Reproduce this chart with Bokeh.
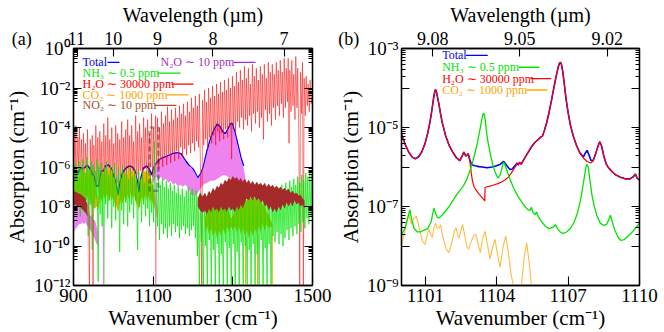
import numpy as np
from bokeh.plotting import figure
from bokeh.layouts import row
from bokeh.models import (Range1d, LinearAxis, LogAxis, FixedTicker,
                          CustomJSTickFormatter, Label, BoxAnnotation)
from bokeh.embed import file_html
from bokeh.resources import INLINE

# ---------------------------------------------------------------------------
# Panel (a): 900-1500 cm^-1 overview.  All absorption values are log10(cm^-1).
# ---------------------------------------------------------------------------
h2o_a_wn = [900, 902, 904, 906, 908, 911, 913, 915, 918, 920, 923, 925, 928, 930, 933, 935, 938, 940, 942, 945, 947, 949, 951, 954, 956, 959,
            961, 964, 966, 969, 971, 974, 976, 979, 981, 984, 986, 989, 991, 994, 996, 999, 1001, 1004, 1006, 1009, 1011, 1014, 1016, 1019, 1021, 1024, 1026, 1029,
            1031, 1034, 1036, 1039, 1041, 1044, 1046, 1049, 1051, 1054, 1056, 1059, 1061, 1064, 1066, 1069, 1071, 1074, 1076, 1079, 1081, 1084, 1086, 1089, 1091, 1094, 1096, 1099,
            1101, 1104, 1106, 1109, 1111, 1114, 1116, 1119, 1121, 1124, 1126, 1129, 1131, 1134, 1136, 1139, 1141, 1144, 1146, 1149, 1151, 1154, 1156, 1159, 1161, 1164, 1166, 1169, 1171, 1174, 1176, 1179, 1181, 1184, 1186, 1189, 1191, 1194, 1196, 1199,
            1201, 1204, 1206, 1209, 1211, 1214, 1216, 1219, 1222, 1224, 1227, 1229, 1232, 1234, 1237, 1239, 1242, 1244, 1247, 1249, 1252, 1254, 1257, 1259, 1262, 1264, 1267, 1269, 1272, 1274, 1277, 1279, 1282, 1284, 1287, 1289, 1292, 1294, 1297, 1299,
            1302, 1304, 1307, 1309, 1312, 1314, 1317, 1319, 1322, 1324, 1327, 1329, 1332, 1334, 1337, 1339, 1342, 1344, 1347, 1349, 1352, 1354, 1357, 1359, 1362, 1364, 1367, 1369, 1372, 1374, 1377, 1379, 1382, 1384, 1387, 1389, 1392, 1394, 1397, 1399,
            1402, 1404, 1407, 1409, 1412, 1414, 1417, 1419, 1422, 1424, 1427, 1429, 1432, 1434, 1437, 1439, 1441, 1443, 1446, 1448, 1451, 1453, 1456, 1458, 1461, 1463, 1466, 1468, 1470, 1473, 1475, 1477, 1479, 1482, 1484, 1487, 1489, 1492, 1494, 1497, 1500]
h2o_a_lg = [-5.6, -4.2, -6.8, -3.9, -7.0, -4.5, -6.2, -4.0, -7.2, -4.6, -6.9, -4.3, -7.4, -4.8, -6.5, -4.1, -8.0, -12.5, -4.6, -7.2, -4.4, -12.5, -4.9, -7.0, -3.9, -6.8,
            -4.5, -7.3, -4.2, -6.6, -4.7, -7.1, -3.8, -6.9, -4.4, -7.4, -3.5, -6.7, -4.6, -7.0, -4.0, -6.5, -4.8, -7.2, -3.9, -6.8, -4.3, -7.0, -4.6, -6.4, -3.7, -7.1, -4.5, -6.6,
            -4.1, -6.9, -3.6, -6.5, -4.4, -7.0, -3.9, -6.3, -4.7, -6.8, -3.4, -6.4, -4.2, -6.9, -3.8, -6.2, -4.5, -6.7, -3.5, -6.1, -4.0, -6.6, -3.6, -6.3, -4.3, -6.0, -3.3, -6.5,
            -4.0, -6.3, -3.4, -5.9, -3.5, -6.1, -4.0, -5.6, -3.2, -6.0, -3.8, -5.5, -3.4, -5.9, -2.95, -5.4, -3.7, -5.8, -3.1, -5.3, -3.6, -5.7, -3.0, -5.2, -3.5, -5.6, -2.9, -5.0, -3.3, -5.5, -2.8, -5.1, -3.4, -5.4, -2.7, -4.9, -3.2, -5.3, -2.5, -4.8,
            -3.0, -5.2, -2.4, -4.7, -2.9, -5.0, -2.3, -6.5, -12.5, -2.6, -4.9, -2.1, -4.6, -2.7, -5.1, -2.0, -4.5, -2.5, -4.8, -1.9, -4.4, -2.4, -4.9, -1.8, -4.2, -2.3, -4.7, -1.7, -4.3, -2.2, -4.6, -1.6, -4.1, -2.1, -4.5, -1.5, -4.0, -2.0, -5.6, -1.4,
            -3.9, -1.9, -4.2, -1.2, -3.7, -1.7, -4.0, -1.1, -3.5, -1.6, -4.1, -0.9, -3.6, -1.5, -3.9, -1.0, -3.4, -1.8, -4.2, -0.8, -3.3, -1.4, -3.8, -1.0, -3.2, -1.6, -4.0, -0.9, -3.5, -1.3, -4.6, -0.8, -3.1, -1.5, -3.7, -0.7, -3.3, -1.2, -3.9, -0.8,
            -3.0, -1.3, -3.6, -0.7, -2.9, -1.1, -3.4, -0.6, -2.8, -1.2, -3.5, -0.5, -3.0, -1.0, -2.7, -0.5, -4.8, -1.1, -3.2, -0.6, -2.9, -1.3, -3.6, -0.4, -3.0, -1.0, -5.0, -12.5, -1.2, -3.3, -0.7, -12.5, -1.5, -3.4, -1.4, -2.9, -1.8, -3.2, -1.6, -2.8, -2.2]

nh3_a_wn = [900, 902, 904, 907, 909, 912, 914, 917, 919, 922, 924, 927, 929, 932, 934, 937, 939, 942, 944, 947, 949, 952, 954, 957, 959,
            962, 964, 967, 969, 972, 974, 976, 978, 981, 983, 986, 988, 991, 993, 996, 998, 1001, 1003, 1006, 1008, 1011, 1013, 1016, 1018, 1021, 1023, 1026, 1028,
            1031, 1033, 1036, 1038, 1041, 1043, 1046, 1048, 1051, 1053, 1056, 1058, 1061, 1063, 1066, 1068, 1071, 1073, 1076, 1078, 1081, 1083, 1086, 1088, 1091, 1093, 1096, 1098,
            1101, 1103, 1106, 1108, 1111, 1113, 1116, 1118, 1121, 1123, 1126, 1128, 1131, 1133, 1136, 1138, 1141, 1143, 1146, 1148, 1151, 1153, 1156, 1158, 1161, 1163, 1166, 1168, 1171, 1173, 1176, 1178, 1181, 1183, 1186, 1188, 1191, 1193, 1196, 1198,
            1201, 1203, 1206, 1208, 1211, 1213, 1216, 1218, 1221, 1223, 1226, 1228, 1231, 1233, 1236, 1238, 1241, 1243, 1246, 1248, 1251, 1253, 1256, 1258, 1261, 1263, 1266, 1268, 1271, 1273, 1276, 1278, 1281, 1283, 1286, 1288, 1291, 1293, 1296, 1298,
            1301, 1303, 1306, 1308, 1311, 1313, 1316, 1318, 1321, 1323, 1326, 1328, 1331, 1333, 1336, 1338, 1341, 1343, 1346, 1348, 1351, 1353, 1356, 1358, 1361, 1363, 1366, 1368, 1371, 1373, 1376, 1378, 1381, 1383, 1386, 1388, 1391, 1393, 1396, 1398,
            1401, 1403, 1406, 1408, 1411, 1413, 1416, 1418, 1421, 1423, 1426, 1428, 1431, 1433, 1436, 1438, 1441, 1443, 1446, 1448, 1451, 1453, 1456, 1458, 1461, 1463, 1466, 1468, 1471, 1473, 1476, 1478, 1481, 1483, 1486, 1488, 1491, 1493, 1496, 1498, 1500]
nh3_a_lg = [-6.0, -7.8, -5.8, -8.2, -6.2, -7.6, -5.7, -8.5, -6.0, -7.9, -5.6, -8.3, -6.3, -7.7, -5.5, -9.5, -6.1, -7.9, -5.7, -10.2, -5.9, -8.1, -6.2, -7.6, -5.6,
            -11.8, -6.0, -8.4, -5.8, -9.0, -6.3, -12.5, -6.0, -7.9, -5.7, -8.6, -6.4, -7.7, -5.9, -9.1, -6.2, -8.0, -5.8, -8.7, -6.5, -7.5, -6.0, -10.3, -6.3, -8.2, -5.9, -8.9, -6.4,
            -7.8, -6.1, -9.0, -6.6, -8.3, -6.0, -7.9, -6.5, -8.6, -6.2, -7.7, -6.7, -10.2, -6.1, -8.0, -6.6, -8.8, -6.3, -7.9, -6.8, -8.5, -6.2, -8.1, -6.7, -9.0, -6.4, -8.3, -6.9,
            -8.8, -4.7, -9.4, -6.8, -9.0, -6.5, -9.7, -6.9, -8.9, -6.6, -9.4, -7.0, -9.1, -6.7, -9.6, -7.1, -9.0, -6.8, -9.5, -7.2, -8.9, -6.9, -9.3, -7.3, -9.0, -7.0, -9.6, -7.4, -9.2, -7.1, -9.0, -7.5, -9.4, -7.2, -9.1, -7.0, -9.5, -7.3, -9.2, -7.1,
            -9.0, -7.4, -9.6, -7.2, -10.5, -7.5, -12.5, -7.3, -9.8, -7.6, -12.5, -7.4, -10.0, -7.7, -12.5, -7.3, -9.7, -7.5, -12.5, -7.2, -10.2, -7.6, -12.5, -7.4, -9.9, -7.7, -12.5, -7.3, -10.4, -7.5, -12.5, -7.6, -9.8, -7.2, -12.5, -7.5, -10.1, -7.4, -12.5, -7.6,
            -9.9, -7.3, -12.5, -7.5, -10.3, -7.2, -12.5, -7.6, -9.8, -7.3, -12.5, -7.4, -10.0, -7.7, -12.5, -7.2, -10.2, -7.5, -12.5, -7.3, -9.9, -7.6, -12.5, -7.4, -10.4, -7.2, -12.5, -7.5, -9.7, -7.3, -12.5, -7.6, -10.1, -7.4, -12.5, -7.2, -9.9, -7.5, -12.5, -7.3,
            -9.5, -7.1, -9.8, -7.4, -9.3, -7.0, -9.9, -7.3, -9.4, -6.9, -10.0, -7.2, -9.6, -6.8, -9.2, -7.1, -9.7, -6.7, -9.1, -7.0, -9.5, -6.6, -9.0, -6.9, -9.4, -6.5, -8.9, -6.8, -9.3, -6.4, -8.8, -6.7, -9.1, -6.3, -8.6, -6.5, -8.9, -6.2, -8.5, -6.4, -8.2]

# CO2: dense line bands, given as upper / lower envelopes
co2_a_wn = [898, 902, 906, 910, 914, 918, 922, 926, 930, 934, 938, 942, 946, 950, 954, 958, 961,
            964, 968, 972, 976, 980, 984, 988, 992, 996, 1000, 1004, 1008, 1012, 1016, 1020, 1024, 1028, 1032, 1036,
            1040, 1044, 1048, 1052, 1056, 1060, 1064, 1068, 1072, 1076, 1080, 1084, 1088, 1092, 1096, 1100, 1104, 1108, 1112, 1115,
            1226, 1230, 1235, 1240, 1245, 1250, 1255, 1260, 1265, 1270, 1275, 1280, 1285, 1290, 1295, 1300, 1305, 1310,
            1315, 1320, 1325, 1330, 1335, 1340, 1345, 1350, 1355, 1360, 1365, 1370, 1375, 1380, 1385, 1390, 1395, 1400, 1404]
co2_a_top = [-7.0, -6.6, -6.9, -6.3, -6.6, -6.1, -6.4, -6.0, -6.3, -5.95, -6.3, -6.1, -6.5, -6.4, -6.9, -7.2, -7.8,
             -7.0, -6.5, -6.2, -6.4, -6.0, -6.3, -5.95, -6.3, -6.1, -6.5, -6.6, -7.1, -7.6, -7.0, -6.6, -6.3, -6.5, -6.1, -6.4,
             -6.0, -6.3, -6.05, -6.4, -6.3, -6.8, -7.5, -6.9, -6.4, -6.1, -6.3, -6.0, -6.35, -6.2, -6.7, -6.9, -7.4, -7.7, -8.2, -14,
             -14, -8.6, -8.2, -7.9, -8.0, -7.7, -7.9, -7.6, -7.8, -7.7, -8.0, -7.9, -8.3, -8.2, -8.6, -8.5, -8.3, -8.0,
             -8.1, -7.8, -7.9, -7.6, -7.7, -7.45, -7.6, -7.45, -7.6, -7.5, -7.7, -7.7, -7.9, -8.0, -8.3, -8.4, -8.7, -8.9, -14]
co2_a_bot = [-7.6, -7.3, -7.7, -7.4, -7.8, -7.4, -7.9, -7.5, -7.8, -7.4, -7.9, -7.5, -8.0, -7.6, -8.1, -8.0, -8.2,
             -7.9, -7.5, -7.8, -7.4, -7.7, -7.3, -7.8, -7.4, -7.7, -7.5, -7.9, -8.0, -8.3, -7.9, -7.6, -7.9, -7.5, -7.8, -7.4,
             -7.7, -7.3, -7.6, -7.4, -7.8, -7.9, -8.2, -7.8, -7.5, -7.8, -7.4, -7.7, -7.4, -7.8, -7.6, -7.9, -8.1, -8.4, -8.7, -14,
             -14, -9.3, -9.0, -9.4, -9.1, -9.5, -9.2, -9.6, -9.2, -9.5, -9.1, -9.4, -9.0, -9.3, -9.0, -9.2, -9.0, -9.3,
             -9.0, -9.4, -9.1, -9.5, -9.2, -9.6, -9.2, -9.5, -9.1, -9.4, -9.0, -9.3, -8.9, -9.2, -8.9, -9.1, -9.0, -9.2, -14]
co2_dip_wn = [1106, 1332, 1362, 1399]
co2_dip_lg = [-8.1, -9.5, -9.4, -9.2]

# NO2 bands
no2_a_wn = [897, 905, 910, 915, 920, 925, 930, 935, 938,
            1208, 1212, 1218, 1224,
            1230, 1235, 1240, 1245, 1250, 1255, 1260, 1265, 1270, 1275,
            1280, 1285, 1290, 1295, 1300, 1305, 1310, 1315, 1320, 1325,
            1330, 1335, 1340, 1345, 1350, 1355, 1360, 1365, 1370, 1375,
            1380, 1385, 1390, 1395, 1400, 1405, 1410, 1415, 1420, 1425,
            1430, 1435, 1440, 1445, 1450, 1455, 1460, 1465, 1470, 1475,
            1480, 1484]
no2_a_top = [-7.2, -7.25, -7.3, -7.35, -7.4, -7.5, -7.6, -7.9, -14,
             -14, -7.6, -7.3, -7.5,
             -7.3, -7.5, -7.2, -7.35, -7.05, -7.2, -6.95, -7.05, -6.8, -6.9,
             -6.65, -6.75, -6.55, -6.65, -6.45, -6.6, -6.5, -6.7, -6.55, -6.75,
             -6.6, -6.8, -6.65, -6.85, -6.7, -6.9, -6.75, -6.9, -6.8, -6.95,
             -6.8, -7.0, -6.85, -7.0, -6.9, -7.05, -6.95, -7.1, -7.0, -7.15,
             -7.05, -7.2, -7.1, -7.3, -7.2, -7.35, -7.3, -7.45, -7.4, -7.6,
             -7.7, -14]
no2_a_bot = [-8.0, -7.9, -8.0, -7.95, -8.1, -8.2, -8.3, -8.5, -14,
             -14, -8.0, -8.2, -8.3,
             -8.2, -8.4, -8.1, -8.3, -8.0, -8.2, -8.1, -8.3, -8.0, -8.2,
             -8.1, -8.3, -8.0, -8.2, -8.1, -8.3, -8.0, -8.2, -7.9, -8.1,
             -7.8, -7.6, -7.7, -7.5, -7.7, -7.5, -7.7, -7.6, -7.8, -7.7,
             -8.0, -7.9, -8.2, -8.0, -8.3, -8.1, -8.3, -8.0, -8.2, -7.9,
             -8.1, -7.8, -8.0, -7.8, -8.0, -7.7, -7.9, -7.8, -8.0, -7.9,
             -8.1, -14]

# N2O bands
n2o_a_wn = [898, 902, 906, 910, 914, 918, 922, 926, 930, 934, 938, 942, 946, 950, 954, 958, 962, 965,
            1093, 1097, 1102, 1108, 1114, 1120, 1126, 1132, 1138, 1144,
            1150, 1156, 1162, 1168, 1174, 1180, 1186, 1195, 1205, 1212,
            1219, 1226, 1235, 1245, 1253, 1261, 1268, 1275, 1281, 1288,
            1294, 1298, 1305, 1312, 1320, 1327, 1332, 1336, 1340]
n2o_a_top = [-7.3, -7.5, -7.4, -7.7, -7.6, -7.9, -7.8, -8.1, -8.0, -8.3, -8.2, -8.5, -8.4, -8.7, -8.7, -9.0, -9.4, -14,
             -14, -6.6, -6.0, -5.8, -5.7, -5.6, -5.55, -5.5, -5.45, -5.4,
             -5.35, -5.35, -5.3, -5.35, -5.5, -5.7, -5.9, -6.0, -6.3, -6.6,
             -6.4, -6.05, -5.3, -4.6, -4.2, -3.9, -4.05, -4.3, -4.4, -4.15,
             -3.9, -3.85, -4.3, -4.9, -5.6, -6.05, -6.6, -7.2, -14]
n2o_a_bot = [-9.5, -9.3, -9.1, -9.0, -8.9, -8.9, -8.8, -8.9, -8.8, -9.0, -9.0, -9.2, -9.3, -9.5, -9.7, -9.9, -10.0, -14,
             -14, -6.9, -6.7, -6.5, -6.6, -6.5, -6.7, -6.6, -6.8, -6.7,
             -6.9, -6.8, -7.0, -6.9, -7.0, -6.9, -7.0, -7.4, -7.45, -7.3,
             -7.1, -6.9, -6.8, -6.7, -6.7, -6.6, -6.5, -6.4, -6.4, -6.5,
             -6.6, -6.6, -6.7, -6.8, -6.9, -7.0, -7.1, -7.3, -14]
n2o_dip_wn = [975, 1107]
n2o_dip_lg = [-8.9, -6.6]

# Total absorption along the upper edge of the weaker bands
total_a_wn = [900, 906, 912, 918, 924, 930, 934, 940, 946, 952,
              958, 964, 970, 976, 980, 988, 994, 1000, 1006, 1012,
              1018, 1024, 1032, 1040, 1048, 1054, 1060, 1064, 1070, 1076,
              1084, 1090, 1096, 1102,
              1110, 1120, 1130, 1140, 1150, 1160, 1170, 1180, 1190, 1200, 1212, 1220, 1226,
              1235, 1245, 1253, 1261, 1268, 1275, 1281, 1288, 1294, 1298, 1305, 1312, 1320, 1327]
total_a_lg = [-6.75, -6.6, -6.3, -6.05, -6.1, -6.0, -5.9, -6.05, -6.3, -6.5,
              -7.0, -6.9, -6.2, -6.2, -5.95, -5.9, -6.05, -6.4, -6.8, -7.4,
              -6.7, -6.25, -6.05, -5.95, -6.0, -6.2, -6.7, -7.3, -6.5, -6.05,
              -5.95, -6.1, -6.4, -6.0,
              -5.75, -5.57, -5.49, -5.42, -5.32, -5.28, -5.33, -5.65, -5.92, -6.1, -6.55, -6.33, -6.0,
              -5.2, -4.5, -4.1, -3.82, -3.97, -4.22, -4.32, -4.07, -3.82, -3.78, -4.22, -4.82, -5.5, -5.95]

# ---------------------------------------------------------------------------
# Panel (b): 1100-1110 cm^-1 detail (log10 cm^-1)
# ---------------------------------------------------------------------------
h2o_b_wn = [1100.00, 1100.15, 1100.30, 1100.45, 1100.58, 1100.72, 1100.85, 1100.98, 1101.10, 1101.20,
            1101.28, 1101.35, 1101.40, 1101.43, 1101.46, 1101.51, 1101.57, 1101.64, 1101.71, 1101.85,
            1102.00, 1102.15, 1102.30, 1102.45, 1102.55, 1102.62, 1102.70, 1102.76, 1102.80, 1102.86,
            1102.92, 1102.98, 1103.05, 1103.15, 1103.25, 1103.35, 1103.45, 1103.50, 1103.51, 1103.60,
            1103.75, 1103.90, 1104.05, 1104.20, 1104.35, 1104.50, 1104.62, 1104.72, 1104.80, 1104.86,
            1104.91, 1104.96, 1105.03, 1105.15, 1105.30, 1105.45, 1105.60, 1105.75, 1105.85, 1105.92,
            1106.00, 1106.10, 1106.20, 1106.30, 1106.40, 1106.50, 1106.58, 1106.64, 1106.68, 1106.72,
            1106.78, 1106.85, 1106.92, 1107.00, 1107.10, 1107.22, 1107.35, 1107.50, 1107.65, 1107.80,
            1107.95, 1108.05, 1108.15, 1108.25, 1108.33, 1108.40, 1108.50, 1108.60, 1108.70, 1108.85,
            1109.00, 1109.20, 1109.40, 1109.60, 1109.75, 1109.83, 1109.90, 1110.00]
h2o_b_lg = [-5.17, -5.42, -5.62, -5.75, -5.79, -5.74, -5.62, -5.42, -5.15, -4.85,
            -4.55, -4.25, -4.08, -4.04, -4.08, -4.22, -4.40, -4.65, -4.87, -5.20,
            -5.45, -5.62, -5.76, -5.84, -5.72, -5.62, -5.72, -5.70, -5.66, -5.80,
            -6.10, -6.35, -6.50, -6.60, -6.68, -6.75, -6.82, -6.86, -6.52, -6.50,
            -6.48, -6.45, -6.42, -6.38, -6.33, -6.25, -6.15, -6.05, -5.98, -5.90,
            -5.95, -5.88, -5.93, -5.80, -5.65, -5.50, -5.38, -5.30, -5.24, -5.22,
            -5.08, -4.88, -4.62, -4.32, -4.00, -3.70, -3.48, -3.37, -3.35, -3.40,
            -3.60, -3.95, -4.30, -4.62, -4.95, -5.22, -5.45, -5.65, -5.78, -5.86,
            -5.90, -5.85, -5.68, -5.48, -5.36, -5.45, -5.72, -5.92, -6.02, -6.12,
            -6.20, -6.26, -6.30, -6.30, -6.24, -6.18, -6.28, -6.33]

total_b_wn = [1100.00, 1100.15, 1100.30, 1100.45, 1100.58, 1100.72, 1100.85, 1100.98, 1101.10, 1101.20,
              1101.28, 1101.35, 1101.40, 1101.43, 1101.46, 1101.51, 1101.57, 1101.64, 1101.71, 1101.85,
              1102.00, 1102.15, 1102.30, 1102.45, 1102.55, 1102.62, 1102.70, 1102.76, 1102.80, 1102.86,
              1102.92, 1102.98, 1103.10, 1103.25, 1103.40, 1103.60, 1103.80, 1104.00, 1104.15, 1104.30,
              1104.42, 1104.55, 1104.65, 1104.75, 1104.86, 1104.91, 1104.96, 1105.03, 1105.15, 1105.30,
              1105.45, 1105.60, 1105.75, 1105.85, 1105.92, 1106.00, 1106.10, 1106.20, 1106.30, 1106.40,
              1106.50, 1106.58, 1106.64, 1106.68, 1106.72, 1106.78, 1106.85, 1106.92, 1107.00, 1107.10,
              1107.22, 1107.35, 1107.50, 1107.65, 1107.72, 1107.80, 1107.88, 1107.96, 1108.05, 1108.15,
              1108.25, 1108.33, 1108.40, 1108.50, 1108.60, 1108.70, 1108.85, 1109.00, 1109.20, 1109.40,
              1109.60, 1109.75, 1109.83, 1109.90, 1110.00]
total_b_lg = [-5.17, -5.42, -5.62, -5.75, -5.79, -5.74, -5.62, -5.42, -5.15, -4.85,
              -4.55, -4.25, -4.08, -4.04, -4.08, -4.22, -4.40, -4.65, -4.87, -5.20,
              -5.45, -5.62, -5.76, -5.84, -5.72, -5.62, -5.72, -5.70, -5.66, -5.80,
              -5.90, -5.95, -5.97, -5.99, -6.00, -6.02, -6.00, -5.97, -5.93, -5.86,
              -5.96, -6.06, -6.05, -5.98, -5.90, -5.95, -5.88, -5.93, -5.80, -5.65,
              -5.50, -5.38, -5.30, -5.24, -5.22, -5.08, -4.88, -4.62, -4.32, -4.00,
              -3.70, -3.48, -3.37, -3.35, -3.40, -3.60, -3.95, -4.30, -4.62, -4.95,
              -5.22, -5.45, -5.65, -5.74, -5.65, -5.58, -5.70, -5.83, -5.84, -5.68,
              -5.48, -5.36, -5.45, -5.72, -5.92, -6.02, -6.12, -6.20, -6.26, -6.30,
              -6.30, -6.24, -6.18, -6.28, -6.33]

nh3_b_wn = [1100.00, 1100.15, 1100.28, 1100.35, 1100.42, 1100.52, 1100.65, 1100.80, 1100.95, 1101.10,
            1101.25, 1101.31, 1101.37, 1101.42, 1101.50, 1101.57, 1101.70, 1101.85, 1102.00, 1102.15,
            1102.30, 1102.45, 1102.60, 1102.75, 1102.90, 1103.00, 1103.10, 1103.20, 1103.30, 1103.38,
            1103.43, 1103.47, 1103.52, 1103.58, 1103.65, 1103.75, 1103.85, 1103.95, 1104.05, 1104.15,
            1104.25, 1104.30, 1104.35, 1104.45, 1104.55, 1104.70, 1104.90, 1105.10, 1105.30, 1105.40,
            1105.46, 1105.52, 1105.62, 1105.68, 1105.74, 1105.90, 1106.05, 1106.20, 1106.38, 1106.46,
            1106.55, 1106.70, 1106.82, 1106.95, 1107.10, 1107.25, 1107.40, 1107.52, 1107.62, 1107.70,
            1107.76, 1107.80, 1107.85, 1107.92, 1108.00, 1108.10, 1108.22, 1108.35, 1108.50, 1108.62,
            1108.72, 1108.78, 1108.84, 1108.95, 1109.10, 1109.22, 1109.35, 1109.50, 1109.65, 1109.80,
            1109.90, 1110.00]
nh3_b_lg = [-7.72, -7.55, -7.25, -7.08, -7.30, -7.55, -7.64, -7.64, -7.60, -7.56,
            -7.38, -7.18, -7.04, -7.15, -7.27, -7.29, -7.22, -7.12, -7.00, -6.86,
            -6.72, -6.60, -6.48, -6.30, -6.05, -5.85, -5.62, -5.35, -5.04, -4.78,
            -4.65, -4.65, -4.82, -5.15, -5.42, -5.72, -5.98, -6.15, -6.28, -6.20,
            -5.95, -5.88, -5.95, -6.12, -6.30, -6.52, -6.75, -6.93, -7.08, -7.10,
            -7.02, -7.15, -7.20, -7.14, -7.25, -7.40, -7.50, -7.56, -7.52, -7.46,
            -7.56, -7.66, -7.68, -7.64, -7.55, -7.40, -7.15, -6.85, -6.50, -6.18,
            -5.98, -5.93, -6.02, -6.35, -6.70, -7.00, -7.25, -7.42, -7.48, -7.45,
            -7.32, -7.22, -7.35, -7.58, -7.78, -7.86, -7.84, -7.76, -7.68, -7.57,
            -7.50, -7.42]

co2_b_wn = [1100.00, 1100.12, 1100.22, 1100.30, 1100.42, 1100.52, 1100.62, 1100.75, 1100.88, 1100.99,
            1101.08, 1101.15, 1101.22, 1101.29, 1101.36, 1101.43, 1101.50, 1101.57, 1101.64, 1101.75,
            1101.88, 1101.99, 1102.10, 1102.22, 1102.29, 1102.36, 1102.42, 1102.50, 1102.57, 1102.66,
            1102.75, 1102.82, 1102.95, 1103.05, 1103.13, 1103.22, 1103.31, 1103.40, 1103.51, 1103.60,
            1103.72, 1103.82, 1103.93, 1104.03, 1104.14, 1104.26, 1104.38, 1104.50, 1104.60, 1104.70,
            1104.80, 1104.92, 1105.04, 1105.15, 1105.26, 1105.36, 1105.46, 1105.55]
co2_b_lg = [-7.96, -7.70, -7.35, -7.21, -7.45, -7.30, -7.25, -7.55, -7.88, -7.96,
            -7.72, -7.58, -7.70, -7.79, -7.55, -7.42, -7.55, -7.55, -7.46, -7.80,
            -8.08, -8.17, -7.95, -7.62, -7.54, -7.72, -7.80, -7.60, -7.46, -7.75,
            -8.02, -8.08, -7.85, -7.72, -7.71, -7.95, -8.17, -7.85, -7.63, -7.92,
            -8.33, -8.05, -7.83, -8.20, -8.54, -8.05, -7.75, -8.20, -8.70, -9.00,
            -9.30, -9.40, -9.00, -8.30, -7.92, -8.40, -9.00, -9.40]

# Axis ticks
wavenumber_ticks_a = [900, 1100, 1300, 1500]
wavelength_ticks_a = [11, 10, 9, 8, 7]
wavenumber_ticks_b = [1101, 1104, 1107, 1110]
wavelength_ticks_b = [9.08, 9.05, 9.02]

# ---------------------------------------------------------------------------
FONT = "Liberation Serif"
EM = "\u2003"
THIN = "\u2009"

C_TOTAL = "#0000ff"
C_NH3 = "#00e400"
C_H2O = "#ff0000"
C_CO2 = "#ffa500"
C_NO2 = "#a52a2a"
C_N2O = "#ee82ee"
C_N2O_KEY = "#a030c8"
C_NO2_KEY = "#a5502a"


def p10(values):
    return np.power(10.0, np.asarray(values, dtype=float))


SUP = '{"-":"⁻","0":"⁰","1":"¹","2":"²","3":"³","4":"⁴","5":"⁵","6":"⁶","7":"⁷","8":"⁸","9":"⁹"}'


def pow10_labels(parity):
    return CustomJSTickFormatter(code=f"""
const e = Math.round(Math.log10(tick));
if (Math.abs(e) % 2 !== {parity}) return "";
const sup = {SUP};
return "10" + String(e).split("").map(c => sup[c]).join("");
""")


def blank_labels():
    return CustomJSTickFormatter(code='return "";')


def style(ax, tick_len=8, label_px="19px", title_px="21px"):
    ax.axis_line_color = "black"
    ax.axis_line_width = 1.3
    ax.major_tick_line_color = "black"
    ax.minor_tick_line_color = "black"
    ax.major_tick_line_width = 1.1
    ax.minor_tick_line_width = 1.0
    ax.major_tick_in = tick_len
    ax.major_tick_out = 0
    ax.minor_tick_in = 4
    ax.minor_tick_out = 0
    ax.major_label_text_font = FONT
    ax.major_label_text_font_size = label_px
    ax.major_label_text_color = "black"
    ax.major_label_standoff = 3
    ax.axis_label_text_font = FONT
    ax.axis_label_text_font_size = title_px
    ax.axis_label_text_font_style = "normal"
    ax.axis_label_text_color = "black"
    ax.axis_label_standoff = 1


def make_panel(x_rng, y_rng, borders, wn_ticks, lam_ticks, lam_code, y_major, y_minor, parity):
    left, right, top, bottom = borders
    p = figure(width=332, height=332, x_range=Range1d(*x_rng), y_range=Range1d(*y_rng),
               y_axis_type="log", output_backend="svg", toolbar_location=None,
               min_border_left=left, min_border_right=right,
               min_border_top=top, min_border_bottom=bottom,
               background_fill_color="white", border_fill_color="white")
    p.grid.visible = False
    p.outline_line_color = "black"
    p.outline_line_width = 1.3

    xb = p.xaxis[0]
    xb.ticker = FixedTicker(ticks=wn_ticks, minor_ticks=[])
    xb.axis_label = "Wavenumber (cm⁻¹)"
    style(xb, 9)

    yl = p.yaxis[0]
    yl.ticker = FixedTicker(ticks=y_major, minor_ticks=y_minor)
    yl.formatter = pow10_labels(parity)
    yl.axis_label = "Absorption (cm⁻¹)"
    style(yl)

    yr = LogAxis(ticker=FixedTicker(ticks=y_major, minor_ticks=y_minor), formatter=blank_labels())
    style(yr)
    yr.major_label_standoff = 0
    p.add_layout(yr, "right")

    # wavelength axis; its first label also carries the panel tag on the far left
    xt = LinearAxis(ticker=FixedTicker(ticks=[1e4 / lam for lam in lam_ticks], minor_ticks=[]),
                    formatter=CustomJSTickFormatter(code=lam_code),
                    axis_label="Wavelength (µm)")
    style(xt, 8, "18px", "20px")
    xt.major_label_standoff = 0
    xt.axis_label_standoff = 0
    p.add_layout(xt, "above")
    return p


# ---------------------------- panel (a) ------------------------------------
a_major = [10.0 ** e for e in range(-12, 1, 2)]
a_minor = [k * 10.0 ** (e - 1) for e in range(-10, 1, 2) for k in range(2, 10)]
lam_code_a = f"""
const v = Math.round(10000 / tick);
if (v === 11) return "(a){EM}{EM}" + v + "{EM}{EM}{EM}{THIN}";
return String(v);
"""
pa = make_panel((900, 1500), (1e-12, 1.0), (73, 20, 44, 47),
                wavenumber_ticks_a, wavelength_ticks_a, lam_code_a, a_major, a_minor, 0)

floor_a = 10.0 ** -12.5
pa.line(total_a_wn, p10(total_a_lg), line_color=C_TOTAL, line_width=1.6)
pa.varea(x=n2o_a_wn, y1=p10(n2o_a_bot), y2=p10(n2o_a_top), fill_color=C_N2O)
pa.line(h2o_a_wn, p10(h2o_a_lg), line_color=C_H2O, line_width=0.7, line_alpha=0.75)
pa.varea(x=co2_a_wn, y1=p10(co2_a_bot), y2=p10(co2_a_top), fill_color=C_CO2)
pa.segment(x0=co2_dip_wn, y0=p10(co2_dip_lg), x1=co2_dip_wn, y1=[floor_a] * len(co2_dip_wn),
           line_color=C_CO2, line_width=1)
pa.line(nh3_a_wn, p10(nh3_a_lg), line_color=C_NH3, line_width=0.8, line_alpha=0.9)
pa.varea(x=no2_a_wn, y1=p10(no2_a_bot), y2=p10(no2_a_top), fill_color=C_NO2)
pa.segment(x0=n2o_dip_wn, y0=p10(n2o_dip_lg), x1=n2o_dip_wn, y1=[floor_a] * len(n2o_dip_wn),
           line_color=C_N2O, line_width=1)

# region enlarged in panel (b)
pa.add_layout(BoxAnnotation(left=1091, right=1113, bottom=6.3e-8, top=1e-4,
                            fill_alpha=0, line_color="black", line_width=2.6, line_dash="5 3"))


def ax_x(px):
    return 900 + (px - 73) * 600 / 239


def ax_y(py):
    return 10 ** (-(py - 44) / 20)


def bx_x(px):
    return 1100 + (px - 401) / 24


def bx_y(py):
    return 10 ** (-3 - (py - 45) / 40)


def add_key(p, fx, fy, entries):
    for text, color, tx, ty, l0, l1 in entries:
        p.add_layout(Label(x=fx(tx), y=fy(ty), text=text, text_color=color, text_font=FONT,
                           text_font_size="12px", text_baseline="middle"))
        p.line([fx(l0), fx(l1)], [fy(ty), fy(ty)], line_color=color, line_width=1.3)


add_key(pa, ax_x, ax_y, [
    ("Total", C_TOTAL, 82, 58, 107, 119),
    ("N₂O ∼ 10 ppm", C_N2O_KEY, 160, 58, 233, 255),
    ("NH₃ ∼ 0.5 ppm", C_NH3, 82, 69, 157, 180),
    ("H₂O ∼ 30000 ppm", C_H2O, 82, 80, 171, 193),
    ("CO₂ ∼ 1000 ppm", C_CO2, 82, 91, 166, 188),
    ("NO₂ ∼ 10 ppm", C_NO2_KEY, 82, 101.5, 154, 176),
])

# ---------------------------- panel (b) ------------------------------------
b_major = [10.0 ** e for e in range(-9, -2)]
b_minor = [k * 10.0 ** (e - 1) for e in (-7, -5, -3) for k in range(2, 10)]
lam_code_b = f"""
const v = (10000 / tick).toFixed(2);
if (v === "9.08") return "(b){EM}{EM}{EM}{THIN}" + v + "{EM}{EM}{EM}{EM}{THIN}{THIN}";
return v;
"""
pb = make_panel((1100, 1110), (1e-9, 1e-3), (69, 25, 45, 47),
                wavenumber_ticks_b, wavelength_ticks_b, lam_code_b, b_major, b_minor, 1)

pb.line(co2_b_wn, p10(co2_b_lg), line_color=C_CO2, line_width=1.1, line_alpha=0.75)
pb.line(total_b_wn, p10(total_b_lg), line_color=C_TOTAL, line_width=1.6)
pb.line(h2o_b_wn, p10(h2o_b_lg), line_color=C_H2O, line_width=1.2)
pb.line(nh3_b_wn, p10(nh3_b_lg), line_color=C_NH3, line_width=1.3)

add_key(pb, bx_x, bx_y, [
    ("Total", C_TOTAL, 442, 52, 466, 488),
    ("NH₃ ∼ 0.5 ppm", C_NH3, 442, 64, 519, 540),
    ("H₂O ∼ 30000 ppm", C_H2O, 442, 75.5, 531, 552),
    ("CO₂ ∼ 1000 ppm", C_CO2, 442, 87, 527, 548),
])

layout = row(pa, pb)
with open("out.html", "w", encoding="utf-8") as fh:
    fh.write(file_html(layout, INLINE))
